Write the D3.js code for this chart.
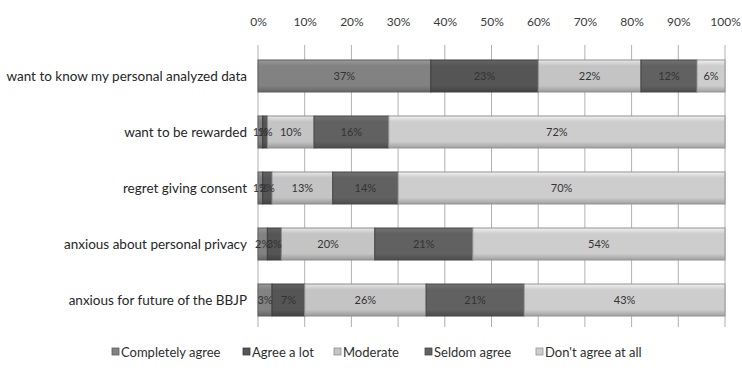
<!DOCTYPE html>
<html>
<head>
<meta charset="utf-8">
<script src="https://cdn.jsdelivr.net/npm/d3@7"></script>
<style>
  html, body { margin: 0; padding: 0; background: #fff; }
  svg { display: block; }
  text { font-family: Lato, "Liberation Sans", sans-serif; }
</style>
</head>
<body>
<svg id="chart" width="742" height="370"></svg>
<script>
// Survey statements (top to bottom)
const categories = [
  "want to know my personal analyzed data",
  "want to be rewarded",
  "regret giving consent",
  "anxious about personal privacy",
  "anxious for future of the BBJP"
];

// Response levels, in stacking order
const series = ["Completely agree", "Agree a lot", "Moderate", "Seldom agree", "Don't agree at all"];

// Share of respondents (%) per statement, one array per response level
const completelyAgree = [37, 1, 1, 2, 3];
const agreeALot       = [23, 1, 2, 3, 7];
const moderate        = [22, 10, 13, 20, 26];
const seldomAgree     = [12, 16, 14, 21, 21];
const dontAgreeAtAll  = [6, 72, 70, 54, 43];

const tickValues = [0, 0.1, 0.2, 0.3, 0.4, 0.5, 0.6, 0.7, 0.8, 0.9, 1];

const colors = ["#828282", "#555555", "#c4c4c4", "#616161", "#cdcdcd"];

const valuesBySeries = [completelyAgree, agreeALot, moderate, seldomAgree, dontAgreeAtAll];
const rows = categories.map((c, i) => {
  const r = { category: c };
  series.forEach((s, k) => { r[s] = valuesBySeries[k][i] / 100; });
  return r;
});

const svg = d3.select("#chart");
const margin = { left: 258, right: 17, top: 48, bottom: 42 };
const W = 742, H = 370;

const x = d3.scaleLinear().domain([0, 1]).range([margin.left, W - margin.right]);
const y = d3.scaleBand().domain(categories)
  .range([margin.top, H - margin.bottom])
  .paddingInner(0.4286).paddingOuter(0.214);

// Bevelled fill for each response level
const defs = svg.append("defs");
colors.forEach((c, k) => {
  const g = defs.append("linearGradient").attr("id", "grad" + k)
    .attr("x1", 0).attr("y1", 0).attr("x2", 0).attr("y2", 1);
  g.append("stop").attr("offset", "0%").attr("stop-color", d3.color(c).brighter(0.45));
  g.append("stop").attr("offset", "18%").attr("stop-color", c);
  g.append("stop").attr("offset", "80%").attr("stop-color", c);
  g.append("stop").attr("offset", "100%").attr("stop-color", d3.color(c).darker(0.7));
});

// Vertical gridlines
svg.append("g").selectAll("line").data(tickValues).join("line")
  .attr("x1", d => x(d)).attr("x2", d => x(d))
  .attr("y1", 45).attr("y2", 327)
  .attr("stroke", "#b0b0b0").attr("stroke-width", 1);

// Percent axis along the top
const axis = svg.append("g").attr("transform", `translate(0,${margin.top - 8})`)
  .call(d3.axisTop(x).tickValues(tickValues).tickFormat(d3.format(".0%")).tickSize(0).tickPadding(14));
axis.select(".domain").remove();
axis.selectAll("text").attr("fill", "#3a3a3a").style("font-size", "12px")
  .style("font-family", "Lato, sans-serif");

// Stacked bars
const stacked = d3.stack().keys(series)(rows);
const layers = svg.append("g").selectAll("g").data(stacked).join("g")
  .attr("fill", (d, k) => `url(#grad${k})`)
  .attr("stroke", (d, k) => d3.color(colors[k]).darker(0.9));

layers.selectAll("rect").data(d => d).join("rect")
  .attr("x", d => x(d[0]))
  .attr("y", d => y(d.data.category))
  .attr("width", d => x(d[1]) - x(d[0]))
  .attr("height", y.bandwidth())
  .attr("stroke-width", 1);

// Value labels centred in each segment
const labels = svg.append("g");
stacked.forEach(layer => {
  layer.forEach(d => {
    labels.append("text")
      .attr("x", (x(d[0]) + x(d[1])) / 2)
      .attr("y", y(d.data.category) + y.bandwidth() / 2)
      .attr("dy", "0.35em")
      .attr("text-anchor", "middle")
      .attr("fill", "#333")
      .style("font-size", "11px")
      .text(d3.format(".0%")(d[1] - d[0]));
  });
});

// Statement labels
svg.append("g").selectAll("text").data(categories).join("text")
  .attr("x", margin.left - 11)
  .attr("y", d => y(d) + y.bandwidth() / 2)
  .attr("dy", "0.35em")
  .attr("text-anchor", "end")
  .attr("fill", "#262626")
  .style("font-size", "13.5px")
  .text(d => d);

// Legend
const legendX = [112, 243, 334, 425, 536];
const legend = svg.append("g").attr("transform", "translate(0,352)");
series.forEach((s, k) => {
  const g = legend.append("g").attr("transform", `translate(${legendX[k]},0)`);
  g.append("rect").attr("x", 0).attr("y", -4).attr("width", 7).attr("height", 7)
    .attr("fill", colors[k]).attr("stroke", d3.color(colors[k]).darker(0.9)).attr("stroke-width", 0.8);
  g.append("text").attr("x", 9).attr("y", 0).attr("dy", "0.35em")
    .attr("fill", "#2e2e2e").style("font-size", "13px").text(s);
});
</script>
</body>
</html>
